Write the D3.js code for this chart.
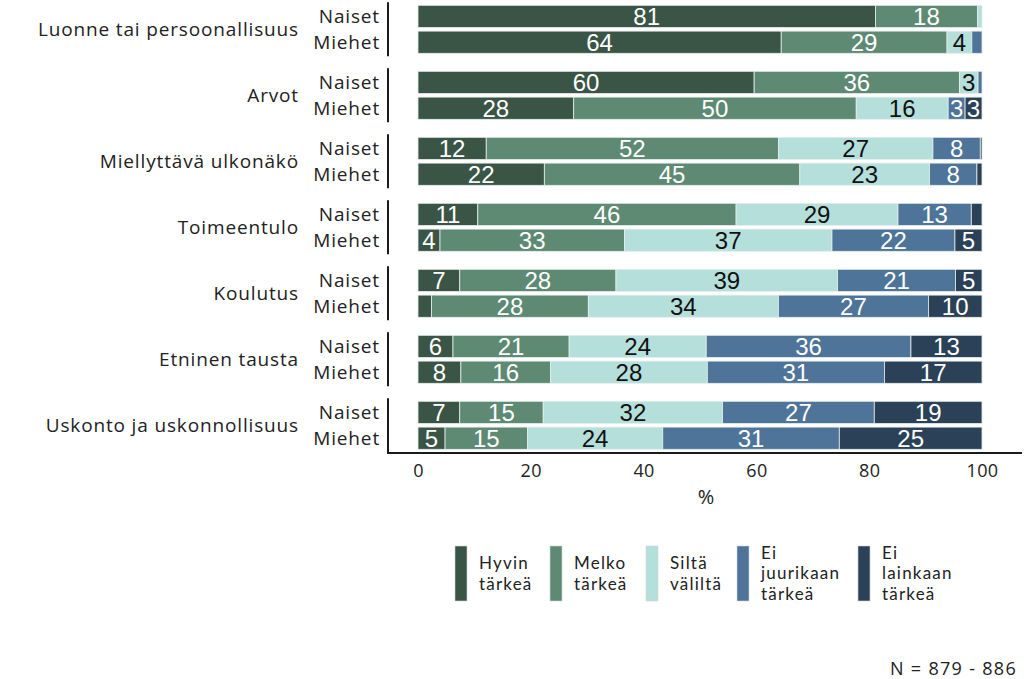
<!DOCTYPE html>
<html>
<head>
<meta charset="utf-8">
<script src="https://cdn.jsdelivr.net/npm/d3@7"></script>
<style>
  html, body { margin: 0; padding: 0; background: #fff; }
  svg { display: block; }
</style>
</head>
<body>
<svg id="chart" width="1024" height="679"></svg>
<script>
const categories = ["Luonne tai persoonallisuus", "Arvot", "Miellyttävä ulkonäkö", "Toimeentulo", "Koulutus", "Etninen tausta", "Uskonto ja uskonnollisuus"];
const groups = ["Naiset", "Miehet"];
const responses = ["Hyvin tärkeä", "Melko tärkeä", "Siltä väliltä", "Ei juurikaan tärkeä", "Ei lainkaan tärkeä"];
const legendLines = [["Hyvin", "tärkeä"], ["Melko", "tärkeä"], ["Siltä", "väliltä"], ["Ei", "juurikaan", "tärkeä"], ["Ei", "lainkaan", "tärkeä"]];
const colors = ["#3a5546", "#5e8a74", "#b5dfdb", "#4e7499", "#2b4157"];
const labelColors = ["#fff", "#fff", "#111", "#fff", "#fff"];

// % per response (Hyvin, Melko, Siltä, Ei juurikaan, Ei lainkaan)
const naiset = [
  [81.1, 18.1, 0.8, 0, 0],
  [59.6, 36.4, 3.3, 0.7, 0],
  [12.1, 51.8, 27.4, 8.4, 0.3],
  [10.6, 45.8, 28.7, 13.0, 1.9],
  [7.4, 27.7, 39.3, 20.9, 4.7],
  [6.2, 20.6, 24.3, 36.3, 12.6],
  [7.4, 14.8, 31.8, 26.9, 19.1]
];
const miehet = [
  [64.4, 29.4, 4.4, 1.8, 0],
  [27.6, 50.1, 16.3, 3.0, 3.0],
  [22.4, 45.3, 23.0, 8.4, 0.9],
  [3.9, 32.7, 36.8, 21.8, 4.8],
  [2.4, 27.8, 33.7, 26.6, 9.5],
  [7.6, 15.9, 27.8, 31.4, 17.3],
  [4.8, 14.6, 24.0, 31.3, 25.3]
];
const xTicks = [0, 20, 40, 60, 80, 100];
const xTitle = "%";
const note = "N = 879 - 886";

const svg = d3.select("#chart");
const labelFont = "'Open Sans', 'Noto Sans', sans-serif";
const legendFont = "Lato, 'Open Sans', sans-serif";
const numFont = "'Liberation Sans Narrow', 'Liberation Sans', Arial, sans-serif";

const x = d3.scaleLinear().domain([0, 100]).range([418, 982]);
const y = d3.scaleBand().domain(categories).range([-3.7, 458.3]).paddingInner(0.2727).paddingOuter(0.1364);
const ySub = d3.scaleBand().domain(groups).range([0, y.bandwidth()]).paddingInner(0.14);
const axisY = 453;
const lineX = 388;

// rows
const rows = [];
categories.forEach((c, ci) => {
  groups.forEach((g, gi) => {
    const vals = gi === 0 ? naiset[ci] : miehet[ci];
    let cum = 0;
    vals.forEach((v, ri) => {
      rows.push({cat: c, group: g, r: ri, x0: cum, x1: cum + v, v});
      cum += v;
    });
  });
});

const gBars = svg.append("g");
gBars.selectAll("rect").data(rows.filter(d => d.v > 0)).join("rect")
  .attr("x", d => x(d.x0))
  .attr("y", d => y(d.cat) + ySub(d.group))
  .attr("width", d => x(d.x1) - x(d.x0))
  .attr("height", ySub.bandwidth())
  .attr("fill", d => colors[d.r])
  .attr("stroke", "#e6eeec")
  .attr("stroke-width", 0.8);

gBars.selectAll("text").data(rows.filter(d => Math.round(d.v) >= 3)).join("text")
  .attr("x", d => x((d.x0 + d.x1) / 2))
  .attr("y", d => y(d.cat) + ySub(d.group) + ySub.bandwidth() / 2)
  .attr("dy", "0.36em")
  .attr("text-anchor", "middle")
  .attr("font-family", numFont)
  .attr("font-size", 24)
  .attr("fill", d => labelColors[d.r])
  .text(d => Math.round(d.v));

// group separator lines
svg.append("g").selectAll("line").data(categories).join("line")
  .attr("x1", lineX).attr("x2", lineX)
  .attr("y1", d => y(d) - 3)
  .attr("y2", (d, i) => i === categories.length - 1 ? axisY : y(d) + y.bandwidth() + 3)
  .attr("stroke", "#1a1a1a").attr("stroke-width", 2);

// x axis line
svg.append("line").attr("x1", lineX - 1).attr("x2", 1022).attr("y1", axisY).attr("y2", axisY)
  .attr("stroke", "#1a1a1a").attr("stroke-width", 2);

// x axis ticks
const xAxis = svg.append("g").attr("transform", `translate(0,${axisY})`)
  .call(d3.axisBottom(x).tickValues(xTicks).tickSize(0).tickPadding(11).tickFormat(d3.format("d")));
xAxis.select(".domain").remove();
xAxis.selectAll("text").attr("font-family", labelFont).attr("font-size", 18).attr("fill", "#222")
  .attr("letter-spacing", 0.4);

svg.append("text").attr("x", (x(0) + x(100)) / 2 + 6).attr("y", 504)
  .attr("text-anchor", "middle").attr("font-family", labelFont).attr("font-size", 20).attr("fill", "#222")
  .text(xTitle);

// category labels
svg.append("g").selectAll("text").data(categories).join("text")
  .attr("x", 299)
  .attr("y", d => y(d) + y.bandwidth() / 2)
  .attr("dy", "0.35em")
  .attr("text-anchor", "end")
  .attr("font-family", labelFont).attr("font-size", 19).attr("fill", "#222")
  .attr("letter-spacing", 0.85)
  .text(d => d);

// sub labels
const subRows = [];
categories.forEach(c => groups.forEach(g => subRows.push({c, g})));
svg.append("g").selectAll("text").data(subRows).join("text")
  .attr("x", 380)
  .attr("y", d => y(d.c) + ySub(d.g) + ySub.bandwidth() / 2)
  .attr("dy", "0.35em")
  .attr("text-anchor", "end")
  .attr("font-family", labelFont).attr("font-size", 19).attr("fill", "#222")
  .attr("letter-spacing", 0.85)
  .text(d => d.g);

// legend
const legendX = [455, 550, 646, 737, 858];
const legendTop = 546, legendH = 55;
const lg = svg.append("g");
responses.forEach((r, i) => {
  const g = lg.append("g").attr("transform", `translate(${legendX[i]},0)`);
  g.append("rect").attr("x", 0).attr("y", legendTop).attr("width", 12).attr("height", legendH)
    .attr("fill", colors[i]).attr("stroke", "#cfd8d6").attr("stroke-width", 0.6);
  const lines = legendLines[i];
  const lh = 20.5;
  const cy = legendTop + legendH / 2;
  const start = cy - (lines.length - 1) * lh / 2;
  lines.forEach((t, k) => {
    g.append("text").attr("x", 24).attr("y", start + k * lh).attr("dy", "0.35em")
      .attr("font-family", legendFont).attr("font-size", 17).attr("fill", "#222")
      .attr("letter-spacing", 1.2).text(t);
  });
});

svg.append("text").attr("x", 1017).attr("y", 675)
  .attr("text-anchor", "end").attr("font-family", labelFont).attr("font-size", 18).attr("fill", "#222")
  .attr("letter-spacing", 1.3)
  .text(note);
</script>
</body>
</html>
